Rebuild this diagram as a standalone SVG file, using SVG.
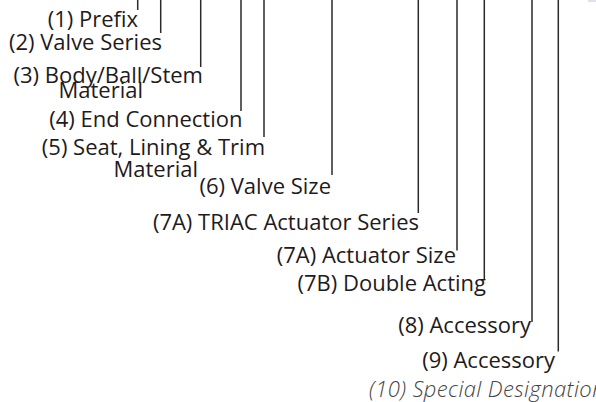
<svg xmlns="http://www.w3.org/2000/svg" width="596" height="402" viewBox="0 0 596 402">
<style>
.t{font-family:"Open Sans","Noto Sans","Liberation Sans",sans-serif;font-size:22px;fill:#1e1b1c}
.e{text-anchor:end}
.it{font-style:italic;fill:#444;font-weight:300;letter-spacing:0.4px}
.c line{stroke:#2a2a2a;stroke-width:1.5}
</style>
<rect width="596" height="402" fill="#fff"/>
<rect x="588" y="0" width="8" height="2" fill="#dfe2ec"/>
<g id="connectors" class="c">
<line x1="137.7" y1="0" x2="137.7" y2="10"/>
<line x1="160.7" y1="0" x2="160.7" y2="33"/>
<line x1="200.7" y1="0" x2="200.7" y2="67"/>
<line x1="241" y1="0" x2="241" y2="111"/>
<line x1="264" y1="0" x2="264" y2="137"/>
<line x1="332" y1="0" x2="332" y2="175"/>
<line x1="418.3" y1="0" x2="418.3" y2="213"/>
<line x1="457" y1="0" x2="457" y2="250.5"/>
<line x1="484.3" y1="0" x2="484.3" y2="279"/>
<line x1="532" y1="0" x2="532" y2="322"/>
<line x1="558.3" y1="0" x2="558.3" y2="351.5"/>
</g>
<g id="n1"><text class="t e" x="138" y="27">(1) Prefix</text></g>
<g id="n2"><text class="t e" x="162" y="50">(2) Valve Series</text></g>
<g id="n3"><text class="t e" x="203" y="83">(3) Body/Ball/Stem</text><text class="t e" x="143" y="98">Material</text></g>
<g id="n4"><text class="t e" x="242.5" y="127">(4) End Connection</text></g>
<g id="n5"><text class="t e" x="265" y="155">(5) Seat, Lining &amp; Trim</text><text class="t e" x="198" y="176.5">Material</text></g>
<g id="n6"><text class="t e" x="331" y="194">(6) Valve Size</text></g>
<g id="n7a1"><text class="t e" x="419" y="230">(7A) TRIAC Actuator Series</text></g>
<g id="n7a2"><text class="t e" x="456" y="263">(7A) Actuator Size</text></g>
<g id="n7b"><text class="t e" x="486" y="291">(7B) Double Acting</text></g>
<g id="n8"><text class="t e" x="531" y="333">(8) Accessory</text></g>
<g id="n9"><text class="t e" x="555" y="368">(9) Accessory</text></g>
<g id="n10"><text class="t it" x="369" y="397">(10) Special Designation</text></g>
</svg>
